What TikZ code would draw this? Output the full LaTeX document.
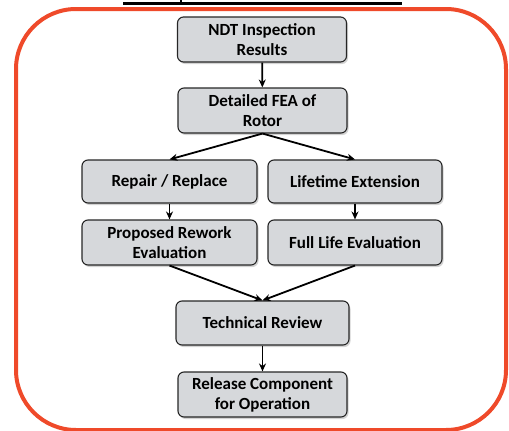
\documentclass[tikz,border=0pt]{standalone}
\usepackage{fontspec}
\setmainfont{Carlito}
\usetikzlibrary{arrows.meta,shadows}

\definecolor{frameorange}{RGB}{239,74,42}
\definecolor{boxgray}{RGB}{214,216,219}

\tikzset{
  stagebox/.style={draw=black!85, line width=1.1pt, fill=boxgray, rounded corners=6pt,
    align=center, font=\fontsize{17}{20}\selectfont\bfseries,
    drop shadow={opacity=0.35, shadow xshift=1.5pt, shadow yshift=-2pt}},
  flow/.style={line width=1.8pt, -{Stealth[length=8pt,width=7pt]}}
}

\begin{document}
\begin{tikzpicture}[x=1pt,y=-1pt]
    \useasboundingbox (0,0) rectangle (509,431);
    % frame and cut title rule
    \draw[frameorange, line width=4pt, rounded corners=60pt] (16,9) rectangle (506,430);
    \draw[line width=2.5pt] (123,3.5) -- (402,3.5);
    \draw[line width=2.5pt] (181,0) -- (181,3.5);

    \node[stagebox, minimum width=169pt, minimum height=45pt] (ndt) at (262,39.5)
      {NDT Inspection\\Results};
    \node[stagebox, minimum width=169pt, minimum height=45pt] (fea) at (262.5,110.5)
      {Detailed FEA of\\Rotor};
    \node[stagebox, minimum width=175pt, minimum height=43pt] (repair) at (169.5,181.5)
      {Repair / Replace};
    \node[stagebox, minimum width=174pt, minimum height=43pt] (life) at (355,181.5)
      {Lifetime Extension};
    \node[stagebox, minimum width=175pt, minimum height=45pt] (rework) at (169.5,242.5)
      {Proposed Rework\\Evaluation};
    \node[stagebox, minimum width=174pt, minimum height=45pt] (full) at (355,242.5)
      {Full Life Evaluation};
    \node[stagebox, minimum width=173pt, minimum height=44pt] (review) at (262.5,323)
      {Technical Review};
    \node[stagebox, minimum width=169pt, minimum height=45pt] (release) at (262.5,394.5)
      {Release Component\\for Operation};

    \draw[flow] (ndt) -- (fea);
    \draw[flow] (fea.south) -- (repair.north);
    \draw[flow] (fea.south) -- (life.north);
    \draw[flow] (repair) -- (rework);
    \draw[flow] (life) -- (full);
    \draw[flow] (rework.south) -- (review.north);
    \draw[flow] (full.south) -- (review.north);
    \draw[flow] (review) -- (release);
  \end{tikzpicture}
\end{document}
